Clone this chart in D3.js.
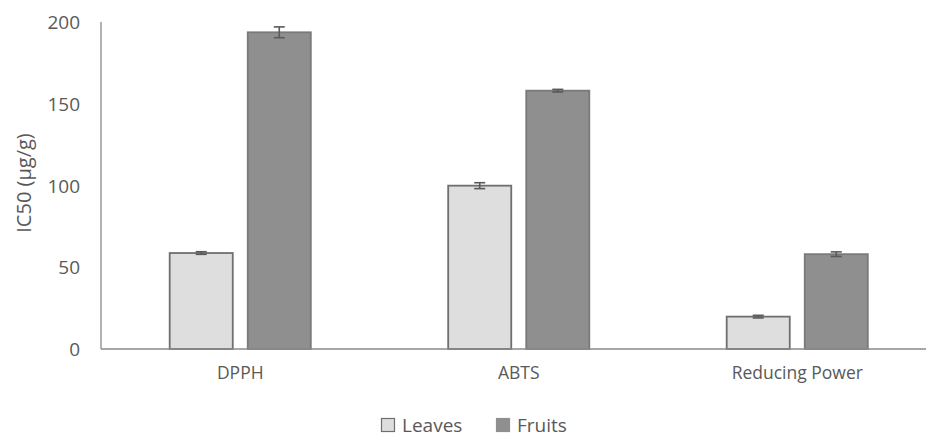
<!DOCTYPE html>
<html><head><meta charset="utf-8">
<script src="https://cdn.jsdelivr.net/npm/d3@7"></script>
<style>body{margin:0;background:#fff}svg{display:block}text{font-family:"Open Sans",sans-serif;fill:#595959}</style>
</head><body><svg id="c" width="926" height="437"></svg>
<script>
const categories = ["DPPH", "ABTS", "Reducing Power"];
const seriesNames = ["Leaves", "Fruits"];
const leaves = [58.7, 99.9, 19.8];
const fruits = [193.7, 158, 58];
const leavesErr = [0.8, 1.8, 0.8];
const fruitsErr = [3.3, 0.8, 1.4];
const yTicks = [0, 50, 100, 150, 200];

const svg = d3.select("#c");
const y = d3.scaleLinear().domain([0, 200]).range([349, 22]);
const x0 = d3.scaleBand().domain(categories).range([101, 936.5]).paddingInner(0).paddingOuter(0);
const x1 = d3.scaleBand().domain(seriesNames).range([0, x0.bandwidth()]).paddingInner(0.192).paddingOuter(0.88);
const fills = {Leaves: "#dedede", Fruits: "#8f8f8f"};
const strokes = {Leaves: "#6f6f6f", Fruits: "#7a7a7a"};
const vals = {Leaves: leaves, Fruits: fruits};
const errs = {Leaves: leavesErr, Fruits: fruitsErr};

// y axis tick labels
const yAxis = d3.axisLeft(y).tickValues(yTicks).tickSize(0).tickPadding(21);
const gy = svg.append("g").attr("transform", "translate(101,0)").call(yAxis);
gy.select(".domain").remove();
gy.selectAll("text").style("font-size", "19px").attr("fill", "#595959").attr("dy", "0.35em");
svg.append("line").attr("x1", 101).attr("x2", 101).attr("y1", 22).attr("y2", 349).attr("stroke", "#8a8a8a").attr("stroke-width", 1.3);

// bars
categories.forEach((c, i) => {
  seriesNames.forEach(s => {
    const v = vals[s][i], e = errs[s][i];
    const bx = x0(c) + x1(s), bw = x1.bandwidth();
    svg.append("rect").attr("x", bx).attr("y", y(v)).attr("width", bw).attr("height", y(0) - y(v))
      .attr("fill", fills[s]).attr("stroke", strokes[s]).attr("stroke-width", 1.8);
    const cx = bx + bw / 2;
    const g = svg.append("g").attr("stroke", "#5a5a5a").attr("stroke-width", 1.6);
    g.append("line").attr("x1", cx).attr("x2", cx).attr("y1", y(v + e)).attr("y2", y(v - e));
    g.append("line").attr("x1", cx - 5.5).attr("x2", cx + 5.5).attr("y1", y(v + e)).attr("y2", y(v + e));
    g.append("line").attr("x1", cx - 5.5).attr("x2", cx + 5.5).attr("y1", y(v - e)).attr("y2", y(v - e));
  });
});

// x axis
const xAxis = d3.axisBottom(x0).tickSize(0).tickPadding(18);
const gx = svg.append("g").attr("transform", "translate(0,349)").call(xAxis);
gx.select(".domain").remove();
gx.selectAll("text").style("font-size", "17.5px").attr("fill", "#595959");
svg.append("line").attr("x1", 101).attr("x2", 926).attr("y1", 349).attr("y2", 349).attr("stroke", "#8a8a8a").attr("stroke-width", 1.6);

// y title
svg.append("text").attr("transform", "translate(31,183) rotate(-90)").attr("text-anchor", "middle")
  .style("font-size", "20px").text("IC50 (µg/g)");

// legend
const legX = [381, 496];
seriesNames.forEach((s, i) => {
  const g = svg.append("g").attr("transform", `translate(${legX[i]},418)`);
  g.append("rect").attr("x", 0.5).attr("y", 0.5).attr("width", 13).attr("height", 13)
    .attr("fill", fills[s]).attr("stroke", s === "Leaves" ? "#6f6f6f" : fills[s]).attr("stroke-width", 1.2);
  g.append("text").attr("x", 21).attr("y", 14).style("font-size", "19px").text(s);
});
</script></body></html>
